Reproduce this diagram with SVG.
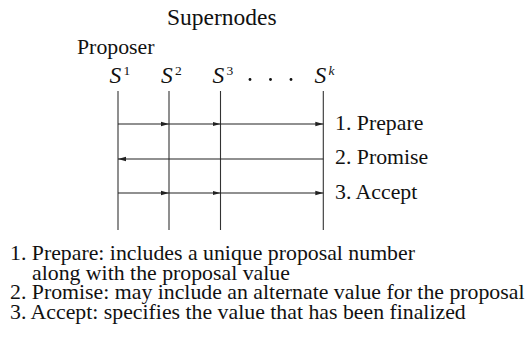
<svg xmlns="http://www.w3.org/2000/svg" width="532" height="338" viewBox="0 0 532 338">
<defs>
<marker id="ah" markerWidth="9" markerHeight="6" refX="8" refY="3" orient="auto" markerUnits="userSpaceOnUse">
<path d="M0,0.8 L8,3 L0,5.2 Z" fill="#222"/>
</marker>
<style>
text{font-family:"Liberation Serif","Times New Roman",serif;fill:#111}
.t{font-size:21.8px}
.h{font-size:23.5px}
.s{font-size:23.5px;font-style:italic}
.sup{font-size:13.5px}
.sk{font-size:13.5px;font-style:italic}
.life{stroke:#333;stroke-width:1.1;fill:none}
.msg{stroke:#222;stroke-width:1.1;fill:none;marker-end:url(#ah)}
</style>
</defs>
<text class="h" x="167" y="25">Supernodes</text>
<text class="t" x="77" y="54">Proposer</text>
<g id="S1">
<text class="s" x="109.5" y="83">S</text><text class="sup" x="123.5" y="75">1</text>
<line class="life" x1="118" y1="91" x2="118" y2="230"/>
</g>
<g id="S2">
<text class="s" x="161" y="83">S</text><text class="sup" x="175" y="75">2</text>
<line class="life" x1="169" y1="91" x2="169" y2="230"/>
</g>
<g id="S3">
<text class="s" x="212.5" y="83">S</text><text class="sup" x="226.5" y="75">3</text>
<line class="life" x1="220.5" y1="91" x2="220.5" y2="230"/>
</g>
<g id="dots" fill="#111">
<circle cx="250" cy="79.5" r="1.4"/><circle cx="270.5" cy="79.5" r="1.4"/><circle cx="291" cy="79.5" r="1.4"/>
</g>
<g id="Sk">
<text class="s" x="314.5" y="83">S</text><text class="sk" x="328.5" y="75">k</text>
<line class="life" x1="323.3" y1="91" x2="323.3" y2="230"/>
</g>
<g id="connectors">
<line class="msg" x1="118" y1="124" x2="169" y2="124"/>
<line class="msg" x1="169" y1="124" x2="220.5" y2="124"/>
<line class="msg" x1="220.5" y1="124" x2="323.3" y2="124"/>
<line class="msg" x1="323.3" y1="159" x2="118" y2="159"/>
<line class="msg" x1="118" y1="193" x2="169" y2="193"/>
<line class="msg" x1="169" y1="193" x2="220.5" y2="193"/>
<line class="msg" x1="220.5" y1="193" x2="323.3" y2="193"/>
</g>
<g id="labels">
<text class="t" x="335" y="129.5">1. Prepare</text>
<text class="t" x="335" y="163.5">2. Promise</text>
<text class="t" x="335" y="198.5">3. Accept</text>
</g>
<g id="legend">
<text class="t"><tspan x="10" y="260">1. Prepare: includes a unique proposal number</tspan><tspan x="32" y="279.5">along with the proposal value</tspan><tspan x="10" y="299">2. Promise: may include an alternate value for the proposal</tspan><tspan x="10" y="319">3. Accept: specifies the value that has been finalized</tspan></text>
</g>
</svg>
